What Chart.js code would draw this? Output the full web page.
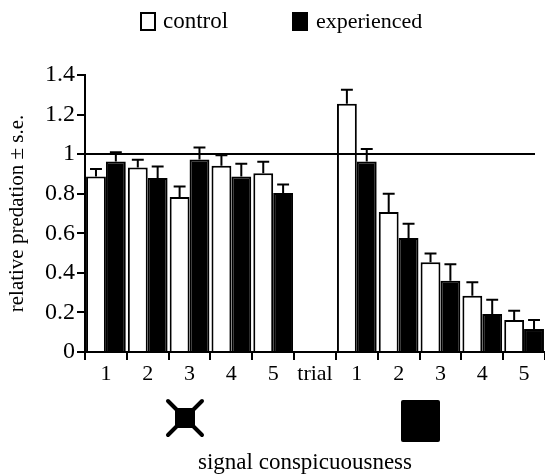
<!DOCTYPE html>
<html>
<head>
<meta charset="utf-8">
<script src="https://cdn.jsdelivr.net/npm/chart.js@4.4.1/dist/chart.umd.min.js"></script>
<style>
    html, body { margin: 0; padding: 0; background: #fff; }
    #wrap { position: relative; width: 545px; height: 476px; font-family: 'Liberation Serif', 'Times New Roman', serif; color: #000; }
    #chart { position: absolute; left: 0; top: 0; }
    .lbl { position: absolute; font-size: 22px; line-height: 22px; white-space: nowrap; }
    .box { position: absolute; width: 16px; height: 19px; box-sizing: border-box; border: 2px solid #000; }
</style>
</head>
<body>
<div id="wrap">
    <canvas id="chart" width="545" height="476"></canvas>
    <div class="box" style="left:140px; top:12px; background:#fff;"></div>
    <div class="lbl" style="left:163px; top:10px; font-size:23px;">control</div>
    <div class="box" style="left:292px; top:12px; background:#000;"></div>
    <div class="lbl" style="left:316px; top:10px;">experienced</div>
    <div class="lbl" style="left:305px; top:451px; font-size:23px; transform:translateX(-50%);">signal conspicuousness</div>
</div>
<script>
// data
const categories = ['1', '2', '3', '4', '5', 'trial', '1', '2', '3', '4', '5'];
const controlMean = [0.887, 0.933, 0.783, 0.941, 0.904, null, 1.255, 0.707, 0.453, 0.284, 0.162];
const controlSE = [0.038, 0.039, 0.054, 0.054, 0.058, null, 0.070, 0.093, 0.045, 0.068, 0.047];
const experiencedMean = [0.963, 0.879, 0.973, 0.887, 0.803, null, 0.963, 0.576, 0.360, 0.192, 0.116];
const experiencedSE = [0.046, 0.059, 0.061, 0.064, 0.044, null, 0.063, 0.072, 0.083, 0.072, 0.046];
const yTicks = [0, 0.2, 0.4, 0.6, 0.8, 1, 1.2, 1.4];
const referenceLevel = 1;

// horizontal line at 1 and the s.e. whiskers (upwards only)
const errorBars = {
    id: 'errorBars',
    afterDatasetsDraw(chart) {
        const ctx = chart.ctx;
        const y = chart.scales.y;
        const area = chart.chartArea;
        ctx.save();
        ctx.strokeStyle = '#000';
        ctx.lineWidth = 2;

        const ly = Math.round(y.getPixelForValue(referenceLevel));
        ctx.beginPath();
        ctx.moveTo(area.left, ly);
        ctx.lineTo(area.right - 10, ly);
        ctx.stroke();

        chart.data.datasets.forEach((ds, di) => {
            const meta = chart.getDatasetMeta(di);
            meta.data.forEach((bar, i) => {
                const v = ds.data[i];
                const se = ds.se[i];
                if (v == null || se == null) return;
                const y0 = y.getPixelForValue(v);
                const y1 = y.getPixelForValue(v + se);
                const cap = bar.width * 0.3;
                ctx.beginPath();
                ctx.moveTo(bar.x, y0);
                ctx.lineTo(bar.x, y1);
                ctx.moveTo(bar.x - cap, y1);
                ctx.lineTo(bar.x + cap, y1);
                ctx.stroke();
            });
        });
        ctx.restore();
    }
};

// the two signal symbols under the axis
const signalIcons = {
    id: 'signalIcons',
    afterDraw(chart) {
        const ctx = chart.ctx;
        ctx.save();
        ctx.fillStyle = '#000';
        ctx.strokeStyle = '#000';
        ctx.lineWidth = 4;
        ctx.lineCap = 'round';
        ctx.fillRect(175, 408, 20, 20);
        ctx.beginPath();
        ctx.moveTo(168, 401); ctx.lineTo(202, 435);
        ctx.moveTo(202, 401); ctx.lineTo(168, 435);
        ctx.stroke();
        ctx.beginPath();
        ctx.roundRect(401, 400, 39, 42, 2);
        ctx.fill();
        ctx.restore();
    }
};

const serif = "'Liberation Serif', 'Times New Roman', serif";

new Chart(document.getElementById('chart'), {
    type: 'bar',
    data: {
        labels: categories,
        datasets: [{
            label: 'control',
            data: controlMean,
            se: controlSE,
            backgroundColor: '#fff',
            borderColor: '#000',
            borderWidth: 2,
            categoryPercentage: 0.95,
            barPercentage: 1.0
        }, {
            label: 'experienced',
            data: experiencedMean,
            se: experiencedSE,
            backgroundColor: '#000',
            borderColor: '#000',
            borderWidth: 2,
            categoryPercentage: 0.95,
            barPercentage: 1.0
        }]
    },
    options: {
        responsive: false,
        animation: false,
        layout: { padding: { top: 75, right: 0, bottom: 84, left: 0 } },
        plugins: {
            legend: { display: false },
            tooltip: { enabled: false }
        },
        scales: {
            x: {
                afterFit: s => { s.height = 40; },
                border: { color: '#000', width: 2 },
                grid: { offset: true, drawOnChartArea: false, tickLength: 8, color: '#000', lineWidth: 2 },
                ticks: { color: '#000', font: { family: serif, size: 22 }, padding: 1, maxRotation: 0, autoSkip: false }
            },
            y: {
                min: 0,
                max: 1.4,
                afterFit: s => { s.width = 85; },
                afterBuildTicks: s => { s.ticks = yTicks.map(v => ({ value: v })); },
                border: { color: '#000', width: 2 },
                grid: { drawOnChartArea: false, tickLength: 8, color: '#000', lineWidth: 2 },
                ticks: {
                    color: '#000',
                    font: { family: serif, size: 24 },
                    padding: 2,
                    callback: v => String(Math.round(v * 10) / 10)
                },
                title: {
                    display: true,
                    text: 'relative predation ± s.e.',
                    color: '#000',
                    font: { family: serif, size: 21 },
                    padding: { top: 5, bottom: 0 }
                }
            }
        }
    },
    plugins: [errorBars, signalIcons]
});
</script>
</body>
</html>
